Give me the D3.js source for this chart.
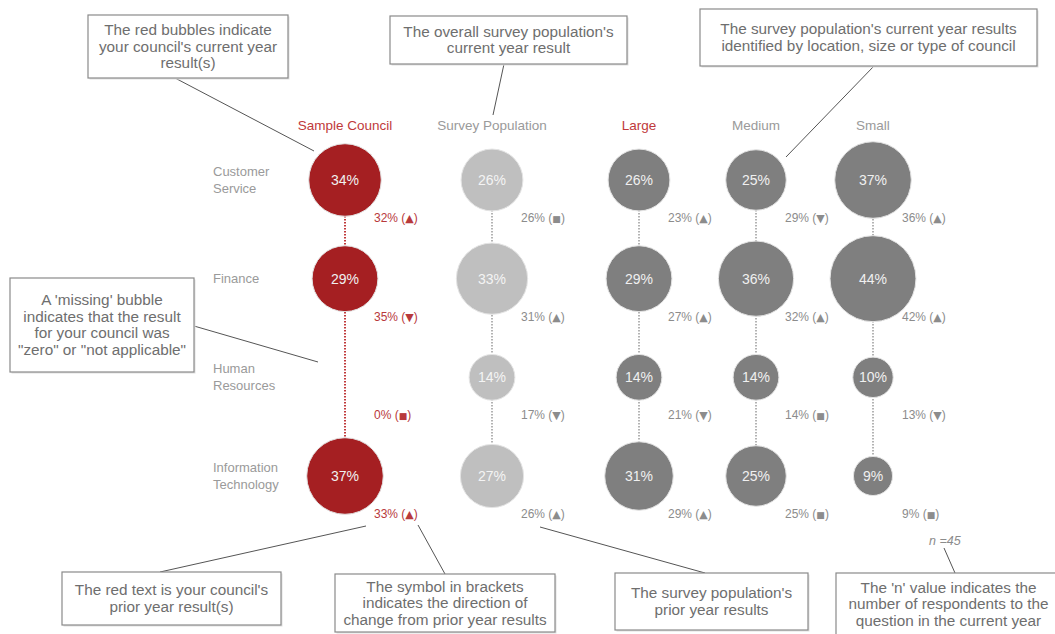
<!DOCTYPE html>
<html><head><meta charset="utf-8">
<script src="https://cdn.jsdelivr.net/npm/d3@7"></script>
<style>
html,body{margin:0;padding:0;background:#fff;}
svg{display:block;font-family:"Liberation Sans",Arial,sans-serif;}
</style></head><body>
<svg id="c" width="1055" height="634"></svg>
<script>
// ---- data ----
const columns = ["Sample Council", "Survey Population", "Large", "Medium", "Small"];
const rows = ["Customer Service", "Finance", "Human Resources", "Information Technology"];
const rowLabelLines = [["Customer", "Service"], ["Finance"], ["Human", "Resources"], ["Information", "Technology"]];
// current year (null = missing bubble)
const currentSample = [34, 29, null, 37];
const currentSurvey = [26, 33, 14, 27];
const currentLarge  = [26, 29, 14, 31];
const currentMedium = [25, 36, 14, 25];
const currentSmall  = [37, 44, 10, 9];
// prior year
const priorSample = [32, 35, 0, 33];
const priorSurvey = [26, 31, 17, 26];
const priorLarge  = [23, 27, 21, 29];
const priorMedium = [29, 32, 14, 25];
const priorSmall  = [36, 42, 13, 9];
// direction symbols
const dirSample = ["▲", "▼", "■", "▲"];
const dirSurvey = ["■", "▲", "▼", "▲"];
const dirLarge  = ["▲", "▲", "▼", "▲"];
const dirMedium = ["▼", "▲", "■", "■"];
const dirSmall  = ["▲", "▲", "▼", "■"];
const nValue = 45;

const current = [currentSample, currentSurvey, currentLarge, currentMedium, currentSmall];
const prior = [priorSample, priorSurvey, priorLarge, priorMedium, priorSmall];
const dirs = [dirSample, dirSurvey, dirLarge, dirMedium, dirSmall];

// ---- styling ----
const RED = "#a51f22", RED_TXT = "#b8393b", LIGHT = "#bfbfbf", DARK = "#7f7f7f", GREY_TXT = "#8c8c8c";
const fillFor = i => i === 0 ? RED : (i === 1 ? LIGHT : DARK);
const headColor = i => (i === 0 || i === 2) ? "#c0393b" : "#9a9a9a";

const svg = d3.select("#c");
const x = d3.scaleOrdinal().domain(columns).range([345, 492, 639, 756, 873]);
const y = d3.scalePoint().domain(rows).range([180, 476]);
const r = d3.scaleLinear().domain([0, 50]).range([13.5, 47]);

// headers
svg.append("g").selectAll("text").data(columns).join("text")
  .attr("x", d => x(d)).attr("y", 130).attr("text-anchor", "middle")
  .attr("font-size", 13.5).attr("fill", (d, i) => headColor(i)).text(d => d);

// row labels
const rl = svg.append("g").selectAll("text").data(rows).join("text")
  .attr("x", 213).attr("font-size", 13).attr("fill", "#9a9a9a")
  .attr("y", d => y(d) + 8);
rl.each(function(d, i) {
  const lines = rowLabelLines[i];
  const t = d3.select(this);
  lines.forEach((ln, k) => {
    t.append("tspan").attr("x", 213)
     .attr("dy", k === 0 ? (-(lines.length - 1) * 8.5 - 4) : 17).text(ln);
  });
});

// vertical dotted lines
columns.forEach((c, i) => {
  svg.append("line")
    .attr("x1", x(c)).attr("x2", x(c))
    .attr("y1", y(rows[0])).attr("y2", y(rows[rows.length - 1]))
    .attr("stroke", i === 0 ? "#c0393b" : "#9a9a9a")
    .attr("stroke-width", i === 0 ? 2 : 1.5)
    .attr("stroke-dasharray", "1.5,1.5");
});

// bubbles
columns.forEach((c, i) => {
  const g = svg.append("g");
  const data = rows.map((rw, j) => ({ rw, v: current[i][j], p: prior[i][j], s: dirs[i][j] }));
  g.selectAll("circle").data(data.filter(d => d.v != null)).join("circle")
    .attr("cx", x(c)).attr("cy", d => y(d.rw)).attr("r", d => r(d.v))
    .attr("fill", fillFor(i)).attr("stroke", "#e4e4e4").attr("stroke-width", 1);
  g.selectAll("text.v").data(data.filter(d => d.v != null)).join("text").attr("class", "v")
    .attr("x", x(c)).attr("y", d => y(d.rw) + 5).attr("text-anchor", "middle")
    .attr("font-size", 14).attr("fill", i === 1 ? "#f4f4f4" : "#f0f0f0")
    .text(d => d.v + "%");
  const pt = g.selectAll("text.p").data(data).join("text").attr("class", "p")
    .attr("x", x(c) + 29).attr("y", d => y(d.rw) + 42)
    .attr("font-size", 12).attr("fill", i === 0 ? RED_TXT : GREY_TXT);
  pt.append("tspan").text(d => d.p + "% (");
  pt.append("tspan").attr("font-size", d => d.s === "■" ? 9 : 11).attr("font-family", "DejaVu Sans")
    .text(d => d.s);
  pt.append("tspan").text(")");
});

// n value
svg.append("text").attr("x", 929).attr("y", 545).attr("font-size", 12.5)
  .attr("font-style", "italic").attr("fill", "#8c8c8c").text("n =" + nValue);

// annotations
const notes = [
  { x: 88, y: 15, w: 200, h: 63, lines: ["The red bubbles indicate", "your council's current year", "result(s)"], from: [175, 78], to: [314, 151] },
  { x: 390, y: 16, w: 237, h: 48, lines: ["The overall survey population's", "current year result"], from: [504, 64], to: [493, 115] },
  { x: 700, y: 9, w: 337, h: 57, lines: ["The survey population's current year results", "identified by location, size or type of council"], from: [874, 66], to: [786, 157] },
  { x: 10, y: 278, w: 184, h: 94, lines: ["A 'missing' bubble", "indicates that the result", "for your council was", "\"zero\" or \"not applicable\""], from: [194, 326], to: [318, 362] },
  { x: 62, y: 572, w: 219, h: 53, lines: ["The red text is your council's", "prior year result(s)"], from: [160, 572], to: [366, 526] },
  { x: 335, y: 574, w: 220, h: 58, lines: ["The symbol in brackets", "indicates the direction of", "change from prior year results"], from: [445, 574], to: [418, 525] },
  { x: 615, y: 573, w: 193, h: 57, lines: ["The survey population's", "prior year results"], from: [705, 573], to: [540, 527] },
  { x: 836, y: 573, w: 225, h: 62, lines: ["The 'n' value indicates the", "number of respondents to the", "question in the current year"], from: [955, 573], to: [944, 548] }
];
const ag = svg.append("g");
notes.forEach(n => {
  ag.append("line").attr("x1", n.from[0]).attr("y1", n.from[1]).attr("x2", n.to[0]).attr("y2", n.to[1])
    .attr("stroke", "#555").attr("stroke-width", 1);
  ag.append("rect").attr("x", n.x + 1.5).attr("y", n.y + 1.5).attr("width", n.w).attr("height", n.h)
    .attr("fill", "#e0e0e0");
  ag.append("rect").attr("x", n.x).attr("y", n.y).attr("width", n.w).attr("height", n.h)
    .attr("fill", "#fff").attr("stroke", "#8a8a8a").attr("stroke-width", 1.2);
  const lh = 16.5;
  const top = n.y + n.h / 2 - (n.lines.length - 1) * lh / 2 + 5;
  n.lines.forEach((ln, k) => {
    ag.append("text").attr("x", n.x + n.w / 2).attr("y", top + k * lh).attr("text-anchor", "middle")
      .attr("font-size", 15.3).attr("fill", "#6e6e6e").text(ln);
  });
});
</script>
</body></html>
